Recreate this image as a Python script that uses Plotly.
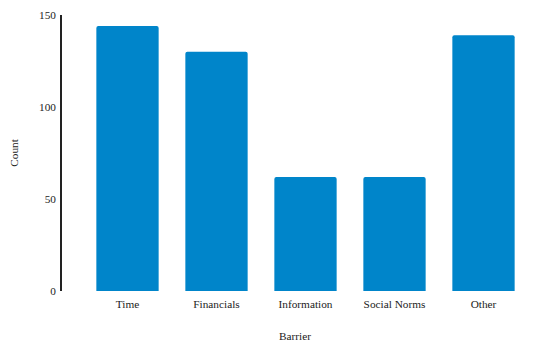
import plotly.graph_objects as go

categories = ["Time", "Financials", "Information", "Social Norms", "Other"]
counts = [144, 130, 62, 62, 139]
y_ticks = [0, 50, 100, 150]

fig = go.Figure(go.Bar(
    x=categories, y=counts,
    marker=dict(color="#0085CA", cornerradius=2, line=dict(width=0)),
))

font = dict(family="Liberation Serif, Times New Roman, serif", size=11.3, color="#222")

fig.update_layout(
    width=542, height=341,
    margin=dict(l=54, r=22, t=7, b=58, autoexpand=False),
    plot_bgcolor="white", paper_bgcolor="white",
    bargap=0.30,
    font=font,
    showlegend=False,
    xaxis=dict(
        range=[-0.736, 4.5], showgrid=False, showline=False, zeroline=False,
        ticks="", tickfont=font, automargin=False, ticklabelstandoff=5,
        title=dict(text="Barrier", font=font, standoff=22),
    ),
    yaxis=dict(
        range=[0, 150], tickvals=y_ticks, showgrid=False, zeroline=False,
        showline=True, linecolor="#222", linewidth=1.5, ticks="",
        tickfont=font, ticklabelstandoff=2, automargin=False,
        title=dict(text="Count", font=font, standoff=18),
    ),
)

fig.write_html("out.html")
